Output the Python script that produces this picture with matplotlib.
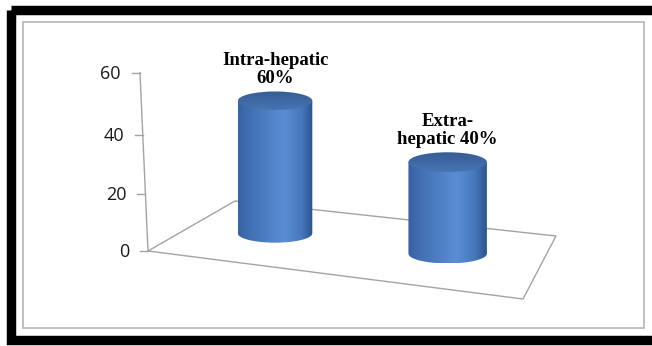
import numpy as np
import matplotlib
matplotlib.use('Agg')
import matplotlib.pyplot as plt
from matplotlib.patches import Rectangle, Ellipse, Polygon, PathPatch
from matplotlib.path import Path

# data: patient counts per site (48 / 80 = 60 %, 32 / 80 = 40 %)
categories = ['Intra-hepatic', 'Extra-hepatic']
counts = [48, 32]
bar_labels = ['Intra-hepatic\n60%', 'Extra-\nhepatic 40%']
y_ticks = [0, 20, 40, 60]

W, H = 652, 346
fig = plt.figure(figsize=(W / 100, H / 100), dpi=100)
ax = fig.add_axes([0, 0, 1, 1])

# 3-D look: floor quad (front-left, front-right, back-right, back-left)
FLOOR = [(148, 251), (523, 299), (556, 236), (235, 201)]
V_SCALE = 2.8        # px per unit at the front-left corner
V_PERSP = -0.00096   # small perspective on the value direction
AXIS_LEAN = -0.045
R0 = 39.6            # cylinder radius (px at scale 1)
ELL = 0.25           # ellipse flattening


def floor_homography(q):
    (x0, y0), (x1, y1), (x2, y2), (x3, y3) = q
    dx1, dx2, dx3 = x1 - x2, x3 - x2, x0 - x1 + x2 - x3
    dy1, dy2, dy3 = y1 - y2, y3 - y2, y0 - y1 + y2 - y3
    den = dx1 * dy2 - dy1 * dx2
    g = (dx3 * dy2 - dy3 * dx2) / den
    h = (dx1 * dy3 - dy1 * dx3) / den
    a, b, c = x1 - x0 + g * x1, x3 - x0 + h * x3, x0
    d, e, f = y1 - y0 + g * y1, y3 - y0 + h * y3, y0
    return a, b, c, d, e, f, g, h


HOM = floor_homography(FLOOR)


def floor_pt(u, w):
    a, b, c, d, e, f, g, h = HOM
    den = g * u + h * w + 1
    return (a * u + b * w + c) / den, (d * u + e * w + f) / den, 1 / den


def lift(v):
    return V_SCALE * v / (1 + V_PERSP * v)


def ramp(stops, n=256):
    t = np.linspace(0, 1, n)
    pos = [p for p, _ in stops]
    cols = np.array([matplotlib.colors.to_rgb(c) for _, c in stops])
    return np.stack([np.interp(t, pos, cols[:, k]) for k in range(3)], axis=-1)


BODY = ramp([(0, '#3862a0'), (0.18, '#4272b5'), (0.62, '#5a8ed4'),
             (0.85, '#4677bb'), (1, '#2c548e')])
TOP = ramp([(0, '#355c94'), (1, '#4875b3')])

# outer black frame and inner chart border
ax.add_patch(Rectangle((11, 10), 700, 330, fill=False, lw=6.8, edgecolor='black'))
ax.add_patch(Rectangle((23, 22), 621, 306, fill=False, lw=1.2, edgecolor='#b4b4b4'))

# floor
ax.add_patch(Polygon(FLOOR, closed=True, fill=False, edgecolor='#a3a3a3', lw=1.0))

# value axis on the front-left corner
ax0x, ax0y = FLOOR[0]
top = lift(max(y_ticks))
ax.plot([ax0x, ax0x + AXIS_LEAN * top], [ax0y, ax0y - top], color='#a3a3a3', lw=1.0)
for t in y_ticks:
    off = lift(t)
    tx, ty = ax0x + AXIS_LEAN * off, ax0y - off
    ax.plot([tx - 8, tx], [ty, ty], color='#a3a3a3', lw=1.0)
    ax.text(tx - 19, ty + 1, str(t), ha='right', va='center',
            fontsize=13, family='Open Sans', color='#1a1a1a')

# cylinders
n = len(counts)
for i, (v, lab) in enumerate(zip(counts, bar_labels)):
    bx, by, s = floor_pt((i + 0.5) / n, 0.5)
    rx = R0 * s
    ry = rx * ELL
    ty = by - lift(v) * s

    th = np.linspace(np.pi, 0, 60)
    verts = [(bx - rx, ty)] + [(bx + rx * np.cos(a), by + ry * np.sin(a)) for a in th] + [(bx + rx, ty), (bx - rx, ty)]
    body = PathPatch(Path(verts, closed=True), facecolor='none', edgecolor='none')
    ax.add_patch(body)
    im = ax.imshow(BODY[None, :, :], extent=(bx - rx, bx + rx, by + ry, ty - ry),
                   aspect='auto', interpolation='bilinear', zorder=2)
    im.set_clip_path(body)

    cap = Ellipse((bx, ty), 2 * rx, 2 * ry, facecolor='none', edgecolor='none')
    ax.add_patch(cap)
    im2 = ax.imshow(TOP[:, None, :], extent=(bx - rx, bx + rx, ty + ry, ty - ry),
                    aspect='auto', interpolation='bilinear', zorder=3)
    im2.set_clip_path(cap)

    ax.text(bx, ty - ry - 4, lab, ha='center', va='bottom', fontsize=13.5,
            family='Liberation Serif', fontweight='bold', linespacing=1.1, zorder=4)

ax.set_xlim(0, W)
ax.set_ylim(H, 0)
ax.axis('off')
fig.savefig('out.png', dpi=100)
